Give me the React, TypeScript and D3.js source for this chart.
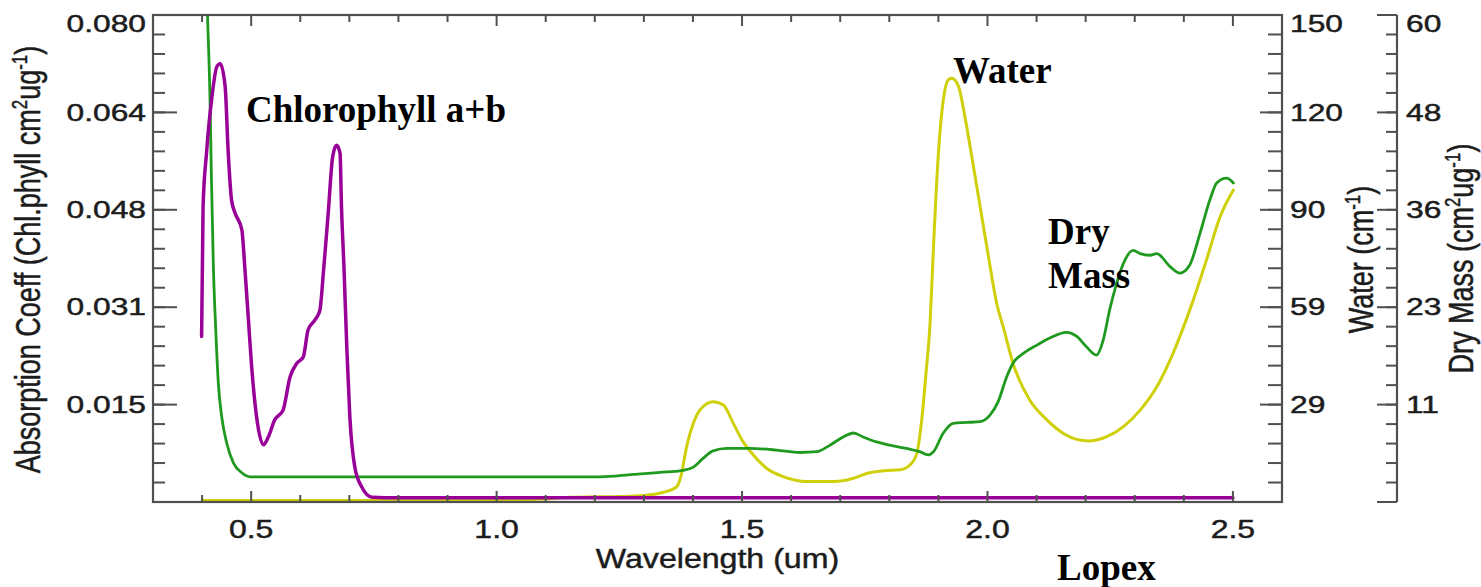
import React from "react";
import * as d3 from "d3";

// ---------- data ----------
const wavelengthMajorTicks = [0.5, 1.0, 1.5, 2.0, 2.5];
const wavelengthTickLabels = ["0.5", "1.0", "1.5", "2.0", "2.5"];
const chlTickLabels = ["0.015", "0.031", "0.048", "0.064", "0.080"];
const waterTickLabels = ["29", "59", "90", "120", "150"];
const dryTickLabels = ["11", "23", "36", "48", "60"];

// [wavelength um, Chl a+b absorption cm2/ug]
const chlorophyll: [number, number][] = [
  [0.399, 0.0272], [0.402, 0.0485], [0.409, 0.0573], [0.42, 0.0665], [0.43, 0.0715],
  [0.437, 0.072], [0.447, 0.0682], [0.453, 0.0578], [0.46, 0.0496], [0.467, 0.0475],
  [0.481, 0.0447], [0.487, 0.0386], [0.494, 0.0304], [0.501, 0.0222], [0.511, 0.014],
  [0.525, 0.0094], [0.535, 0.0107], [0.548, 0.0135], [0.565, 0.0151], [0.579, 0.0205],
  [0.593, 0.0228], [0.606, 0.0238], [0.616, 0.0283], [0.63, 0.0299], [0.64, 0.0315],
  [0.647, 0.0376], [0.657, 0.0475], [0.666, 0.0567], [0.674, 0.0586], [0.681, 0.0573],
  [0.684, 0.0485], [0.689, 0.0386], [0.695, 0.025], [0.701, 0.014], [0.711, 0.0058],
  [0.725, 0.0025], [0.746, 0.0008], [0.8, 0.0007], [1.5, 0.0007], [2.5, 0.0007],
];

// [wavelength um, water absorption cm-1]
const water: [number, number][] = [
  [0.4, 0.5], [0.8, 0.5], [1.0, 0.6], [1.1, 0.9], [1.15, 1.5], [1.2, 1.6], [1.25, 1.7],
  [1.3, 2.0], [1.34, 3.0], [1.367, 4.7], [1.377, 8.9], [1.387, 17.0], [1.401, 24.3],
  [1.414, 28.3], [1.441, 30.9], [1.462, 29.9], [1.482, 24.3], [1.502, 18.6], [1.523, 14.5],
  [1.55, 10.4], [1.584, 7.8], [1.632, 6.3], [1.686, 6.3], [1.727, 7.3], [1.754, 8.8],
  [1.788, 9.6], [1.822, 9.9], [1.842, 11.4], [1.856, 15.0], [1.866, 25.3], [1.875, 40],
  [1.883, 55], [1.89, 78.6], [1.9, 107.4], [1.91, 123.8], [1.92, 130], [1.927, 130.5],
  [1.941, 128], [1.954, 118.7], [1.968, 106.4], [1.985, 91], [2.002, 75.6], [2.019, 61],
  [2.032, 54], [2.052, 42.7], [2.086, 31.4], [2.121, 25.3], [2.154, 21.2], [2.188, 19.1],
  [2.209, 18.8], [2.243, 20.1], [2.277, 23.2], [2.311, 28.3], [2.345, 35.5], [2.378, 45.8],
  [2.412, 59.1], [2.446, 74.5], [2.474, 87.9], [2.501, 96.1],
];

// [wavelength um, dry matter absorption cm2/ug]
const dryMass: [number, number][] = [
  [0.4, 90], [0.405, 72], [0.411, 60], [0.416, 50], [0.419, 40], [0.423, 29], [0.428, 21],
  [0.433, 14.7], [0.44, 10.5], [0.45, 7.3], [0.464, 4.8], [0.481, 3.6], [0.498, 3.1],
  [1.0, 3.1], [1.211, 3.1], [1.278, 3.4], [1.346, 3.7], [1.38, 3.9], [1.401, 4.3],
  [1.421, 5.4], [1.441, 6.3], [1.469, 6.6], [1.516, 6.6], [1.57, 6.4], [1.618, 6.1],
  [1.652, 6.2], [1.679, 7.0], [1.706, 8.0], [1.727, 8.5], [1.747, 8.0], [1.774, 7.4],
  [1.801, 7.0], [1.835, 6.6], [1.862, 6.2], [1.879, 5.8], [1.89, 6.2], [1.91, 8.5],
  [1.93, 9.7], [1.958, 9.8], [1.985, 9.9], [2.005, 10.7], [2.022, 12.4], [2.039, 15.4],
  [2.052, 17.1], [2.073, 18.3], [2.1, 19.3], [2.127, 20.2], [2.161, 20.9], [2.182, 20.4],
  [2.202, 19.1], [2.222, 18.1], [2.236, 20.0], [2.249, 23.7], [2.263, 26.9], [2.277, 29.4],
  [2.297, 31.0], [2.311, 30.6], [2.331, 30.4], [2.345, 30.6], [2.372, 29.0], [2.392, 28.2],
  [2.412, 29.2], [2.433, 33.1], [2.453, 37.2], [2.467, 39.3], [2.487, 39.9], [2.501, 39.3],
];

// ---------- layout ----------
const W = 1481;
const H = 587;
const L = 153;
const R = 1282;
const T = 15;
const B = 502;
const DRY_X = 1397;

const SANS = "'Liberation Sans', Arial, Helvetica, sans-serif";
const SERIF = "'Liberation Serif', 'Times New Roman', serif";
const AXIS = "#505050";
const TXT = "#1c1c1c";
const FS = 23;
const SX = 1.38;

const x = d3.scaleLinear().domain([0.3, 2.6]).range([L, R]);
const yChl = d3.scaleLinear().domain([0, 0.08]).range([B, T]);
const yWater = d3.scaleLinear().domain([0, 150]).range([B, T]);
const yDry = d3.scaleLinear().domain([0, 60]).range([B, T]);

const HText = ({ x, y, anchor, children, fs = FS, sx = SX }: any) => (
  <g transform={`translate(${x},${y}) scale(${sx},1)`}>
    <text
      x={0}
      y={0}
      textAnchor={anchor}
      fontSize={fs}
      fontFamily={SANS}
      fill={TXT}
      stroke={TXT}
      strokeWidth={0.45}
    >
      {children}
    </text>
  </g>
);

const VText = ({ x, y, children }: any) => (
  <g transform={`translate(${x},${y}) rotate(-90) scale(1,1.3)`}>
    <text
      x={0}
      y={0}
      textAnchor="middle"
      fontSize={27}
      fontFamily={SANS}
      fill={TXT}
      stroke={TXT}
      strokeWidth={0.4}
    >
      {children}
    </text>
  </g>
);

function yAxisTicks(scale: any, max: number, xLine: number, dir: number, majLen: number, minLen: number) {
  const majors = d3.range(0, 6).map((i) => (i * max) / 5);
  const minors = d3.range(0, 26).map((i) => (i * max) / 25);
  return (
    <g stroke={AXIS} strokeWidth={2}>
      {minors.map((v, i) => (
        <line key={"m" + i} x1={xLine} x2={xLine + dir * minLen} y1={scale(v)} y2={scale(v)} />
      ))}
      {majors.map((v, i) => (
        <line key={"M" + i} x1={xLine} x2={xLine + dir * majLen} y1={scale(v)} y2={scale(v)} />
      ))}
    </g>
  );
}

function labelY(v: number, scale: any) {
  const py = Math.max(scale(v), T + 8.5);
  return py + 0.358 * FS;
}

export default function App() {
  const lineChl = d3.line<[number, number]>().x((d) => x(d[0])).y((d) => yChl(d[1])).curve(d3.curveMonotoneX);
  const lineWater = d3.line<[number, number]>().x((d) => x(d[0])).y((d) => yWater(d[1])).curve(d3.curveMonotoneX);
  const lineDry = d3.line<[number, number]>().x((d) => x(d[0])).y((d) => yDry(d[1])).curve(d3.curveMonotoneX);

  const xMinor = d3.range(4, 26).map((i) => i / 10);
  const chlMajors = d3.range(1, 6).map((i) => (i * 0.08) / 5);
  const waterMajors = d3.range(1, 6).map((i) => (i * 150) / 5);
  const dryMajors = d3.range(1, 6).map((i) => (i * 60) / 5);

  return (
    <svg width={W} height={H} style={{ position: "absolute", left: 0, top: 0, background: "#fff" }}>
      <defs>
        <clipPath id="plot">
          <rect x={L} y={T} width={R - L} height={B - T} />
        </clipPath>
      </defs>

      {/* curves */}
      <g clipPath="url(#plot)" fill="none" strokeLinejoin="round" strokeLinecap="round">
        <path d={lineWater(water) || ""} stroke="#cfcf0a" strokeWidth={3} />
        <path d={lineDry(dryMass) || ""} stroke="#1f9a1f" strokeWidth={2.8} />
        <path d={lineChl(chlorophyll) || ""} stroke="#980098" strokeWidth={3.5} />
      </g>

      {/* frame */}
      <rect x={L} y={T} width={R - L} height={B - T} fill="none" stroke={AXIS} strokeWidth={2.2} />

      {/* x ticks (top and bottom) */}
      <g stroke={AXIS} strokeWidth={2}>
        {xMinor.map((v, i) => {
          const major = wavelengthMajorTicks.some((m) => Math.abs(m - v) < 1e-6);
          const len = major ? 11 : 7;
          return (
            <g key={i}>
              <line x1={x(v)} x2={x(v)} y1={T} y2={T + len} />
              <line x1={x(v)} x2={x(v)} y1={B} y2={B - len} />
            </g>
          );
        })}
      </g>

      {/* left axis */}
      {yAxisTicks(yChl, 0.08, L, 1, 24, 12)}
      {chlMajors.map((v, i) => (
        <HText key={i} x={146} y={labelY(v, yChl)} anchor="end">
          {chlTickLabels[i]}
        </HText>
      ))}

      {/* water axis */}
      {yAxisTicks(yWater, 150, R, -1, 22, 14)}
      {waterMajors.map((v, i) => (
        <HText key={i} x={1290} y={labelY(v, yWater)} anchor="start">
          {waterTickLabels[i]}
        </HText>
      ))}

      {/* dry mass axis */}
      <line x1={DRY_X} x2={DRY_X} y1={T} y2={B} stroke={AXIS} strokeWidth={2.2} />
      {yAxisTicks(yDry, 60, DRY_X, -1, 20, 11)}
      {dryMajors.map((v, i) => (
        <HText key={i} x={1406} y={labelY(v, yDry)} anchor="start">
          {dryTickLabels[i]}
        </HText>
      ))}

      {/* x tick labels */}
      {wavelengthMajorTicks.map((v, i) => (
        <HText key={i} x={x(v)} y={538} anchor="middle" fs={25} sx={1.28}>
          {wavelengthTickLabels[i]}
        </HText>
      ))}
      <HText x={(L + R) / 2} y={568} anchor="middle" fs={27} sx={1.19}>
        Wavelength (um)
      </HText>

      {/* axis titles */}
      <VText x={40} y={(T + B) / 2 + 1}>
        <tspan>Absorption Coeff (Chl.phyll cm</tspan>
        <tspan dy={-10} fontSize={17}>2</tspan>
        <tspan dy={10}>ug</tspan>
        <tspan dy={-10} fontSize={17}>-1</tspan>
        <tspan dy={10}>)</tspan>
      </VText>
      <VText x={1373} y={(T + B) / 2 + 1}>
        <tspan>Water (cm</tspan>
        <tspan dy={-10} fontSize={17}>-1</tspan>
        <tspan dy={10}>)</tspan>
      </VText>
      <VText x={1473} y={(T + B) / 2}>
        <tspan>Dry Mass (cm</tspan>
        <tspan dy={-10} fontSize={17}>2</tspan>
        <tspan dy={10}>ug</tspan>
        <tspan dy={-10} fontSize={17}>-1</tspan>
        <tspan dy={10}>)</tspan>
      </VText>

      {/* annotations */}
      <g fontFamily={SERIF} fontWeight="bold" fontSize={37} fill="#000">
        <text x={246} y={122}>Chlorophyll a+b</text>
        <text x={953} y={83}>Water</text>
        <text x={1048} y={244}>Dry</text>
        <text x={1048} y={288}>Mass</text>
        <text x={1057} y={580}>Lopex</text>
      </g>
    </svg>
  );
}
